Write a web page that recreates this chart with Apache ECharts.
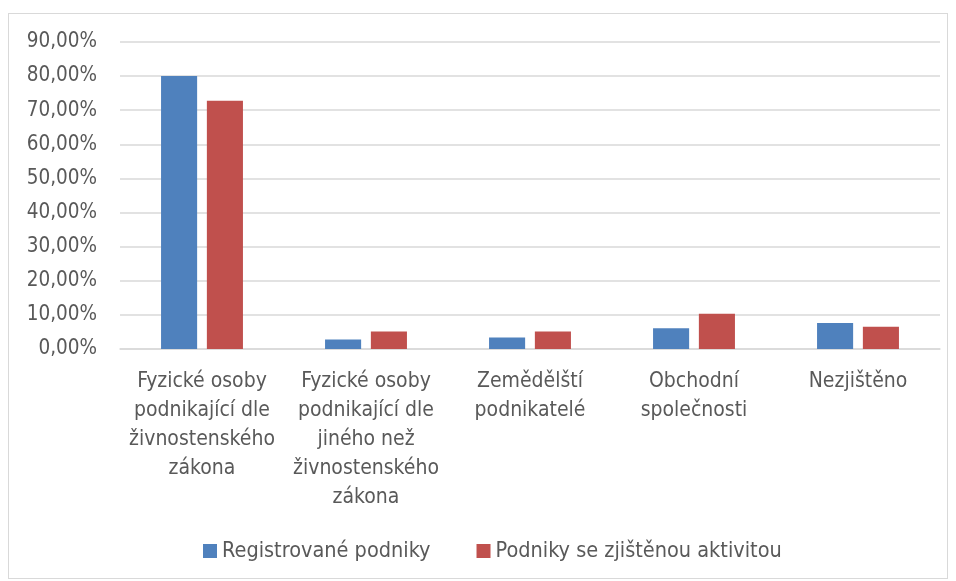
<!DOCTYPE html>
<html>
<head>
<meta charset="utf-8">
<script src="https://cdn.jsdelivr.net/npm/echarts@6/dist/echarts.min.js"></script>
<style>
    html, body { margin: 0; padding: 0; background: #fff; }
    #frame { position: absolute; left: 8px; top: 13px; width: 940px; height: 566px; border: 1px solid #d9d9d9; box-sizing: border-box; }
    #chart { position: absolute; left: 0; top: 0; width: 956px; height: 581px; }
</style>
</head>
<body>
<div id="frame"></div>
<div id="chart"></div>
<script>
// kategorie (zalomeni radku jako v originale)
var categories = [
    'Fyzické osoby\npodnikající dle\nživnostenského\nzákona',
    'Fyzické osoby\npodnikající dle\njiného než\nživnostenského\nzákona',
    'Zemědělští\npodnikatelé',
    'Obchodní\nspolečnosti',
    'Nezjištěno'
];
var seriesNames = ['Registrované podniky', 'Podniky se zjištěnou aktivitou'];
var registrovane = [80.0, 2.8, 3.4, 6.1, 7.6];
var aktivni = [72.8, 5.1, 5.1, 10.3, 6.5];
var yTicks = [0, 10, 20, 30, 40, 50, 60, 70, 80, 90];

var font = "'DejaVu Sans Condensed', sans-serif";
var textColor = '#595959';

var chart = echarts.init(document.getElementById('chart'));
var option = {
    color: ['#4f81bd', '#c0504d'],
    animation: false,
    textStyle: { fontFamily: font },
    grid: {
        left: 120,
        right: 16,
        top: 42,
        bottom: 232
    },
    legend: {
        data: seriesNames,
        left: 198,
        top: 535,
        icon: 'rect',
        itemWidth: 14,
        itemHeight: 14,
        itemGap: 46,
        textStyle: { color: textColor, fontSize: 21.5, fontFamily: font }
    },
    xAxis: [
        {
            type: 'category',
            data: categories,
            axisLine: { lineStyle: { color: '#d9d9d9', width: 1.5 } },
            axisTick: { show: false },
            axisLabel: {
                color: textColor,
                fontSize: 21,
                fontFamily: font,
                lineHeight: 29,
                margin: 18,
                interval: 0
            }
        }
    ],
    yAxis: [
        {
            type: 'value',
            min: yTicks[0],
            max: yTicks[yTicks.length - 1],
            interval: 10,
            axisLine: { show: false },
            axisTick: { show: false },
            splitLine: { lineStyle: { color: '#d9d9d9', width: 1.5 } },
            axisLabel: {
                color: textColor,
                fontSize: 20.5,
                fontFamily: font,
                margin: 23,
                formatter: function (v) {
                    return v.toFixed(2).replace('.', ',') + '%';
                }
            }
        }
    ],
    series: [
        {
            name: seriesNames[0],
            type: 'bar',
            barWidth: '22%',
            barGap: '27%',
            data: registrovane
        },
        {
            name: seriesNames[1],
            type: 'bar',
            barWidth: '22%',
            barGap: '27%',
            data: aktivni
        }
    ]
};
chart.setOption(option);
</script>
</body>
</html>
